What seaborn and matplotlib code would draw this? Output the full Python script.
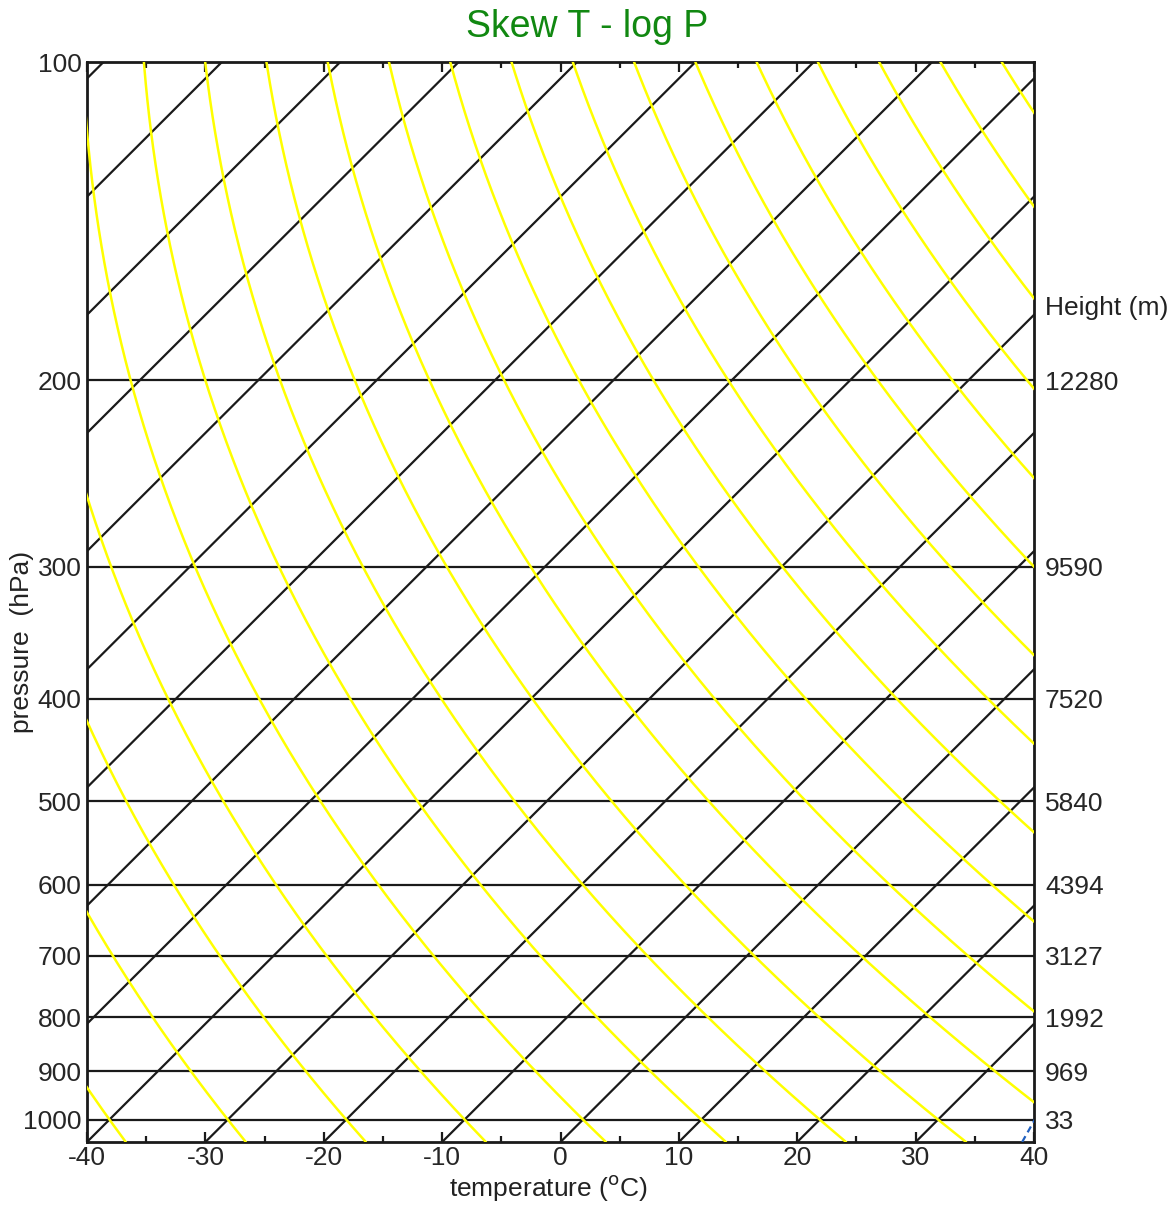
import matplotlib
matplotlib.use("Agg")

import numpy as np
import pandas as pd
import matplotlib.pyplot as plt
import matplotlib.transforms as mtransforms
import seaborn as sns

# diagram data
isotherm_temps = list(range(-130, 50, 10))          # degC
adiabat_thetas = list(range(-40, 170, 10))          # potential temperature, degC
isobar_levels = [200, 300, 400, 500, 600, 700, 800, 900, 1000]
pressure_ticks = [100, 200, 300, 400, 500, 600, 700, 800, 900, 1000]
height_labels = ["12280", "9590", "7520", "5840", "4394", "3127", "1992", "969", "33"]
sounding_p = [1050, 990]
sounding_t = [39.0, 38.0]

P_TOP, P_BOT = 100, 1050
SKEW = 89.5          # degC shift per decade of pressure
KAPPA = 0.286


def skew_x(t, p):
    return np.asarray(t) + SKEW * np.log10(P_BOT / np.asarray(p, dtype=float))


sns.set_theme(style="white")
plt.rcParams["font.family"] = ["Liberation Sans", "DejaVu Sans"]
plt.rcParams["axes.unicode_minus"] = False

fig = plt.figure(figsize=(11.74, 12.05), dpi=100)
ax = fig.add_axes([87 / 1174, 1 - 1142 / 1205, (1034 - 87) / 1174, (1142 - 62) / 1205])

# isotherms: straight lines in skewed coordinates
rows = []
for t in isotherm_temps:
    for p in (P_BOT, P_TOP):
        rows.append({"id": t, "p": p, "x": float(skew_x(t, p))})
iso_df = pd.DataFrame(rows)

# dry adiabats
p_grid = np.geomspace(P_BOT, P_TOP, 200)
rows = []
for th in adiabat_thetas:
    t = (th + 273.15) * (p_grid / 1000.0) ** KAPPA - 273.15
    for pp, xx in zip(p_grid, skew_x(t, p_grid)):
        rows.append({"id": th, "p": pp, "x": xx})
ad_df = pd.DataFrame(rows)

ax.hlines(isobar_levels, -40, 40, color="#1a1a1a", lw=1.6, zorder=2)
sns.lineplot(data=iso_df, x="x", y="p", units="id", estimator=None, sort=False,
             color="#1a1a1a", lw=1.6, ax=ax, zorder=3)
sns.lineplot(data=ad_df, x="x", y="p", units="id", estimator=None, sort=False,
             color="#ffff00", lw=1.8, ax=ax, zorder=4)
ax.plot(skew_x(sounding_t, sounding_p), sounding_p, color="#1f5fbf", lw=1.6,
        ls=(0, (3, 2)), zorder=5)

ax.set_yscale("log")
ax.set_ylim(P_BOT, P_TOP)
ax.set_xlim(-40, 40)
ax.set_yticks(pressure_ticks)
ax.set_yticklabels([str(v) for v in pressure_ticks])
ax.yaxis.set_minor_locator(matplotlib.ticker.NullLocator())
ax.set_xticks(range(-40, 41, 10))
ax.set_xticks(range(-35, 40, 10), minor=True)
ax.tick_params(axis="x", which="both", direction="in", top=True, bottom=True,
               color="#1a1a1a", width=1.6, labelsize=19, pad=3)
ax.tick_params(axis="x", which="major", length=7)
ax.tick_params(axis="x", which="minor", length=4)
ax.tick_params(axis="y", length=0, labelsize=19, pad=4)
ax.set_xlabel("")
ax.set_ylabel("")
for s in ax.spines.values():
    s.set_color("#1a1a1a")
    s.set_linewidth(2.0)

# right axis with heights
ax2 = ax.twinx()
ax2.set_yscale("log")
ax2.set_ylim(P_BOT, P_TOP)
ax2.set_yticks(isobar_levels)
ax2.set_yticklabels(height_labels)
ax2.yaxis.set_minor_locator(matplotlib.ticker.NullLocator())
ax2.tick_params(axis="y", length=0, labelsize=19, pad=8)
ax2.set_ylabel("")
for s in ax2.spines.values():
    s.set_visible(False)

trans = mtransforms.blended_transform_factory(ax.transAxes, ax.transData)
ax.text(1.0116, 171, "Height (m)", transform=trans, fontsize=19,
        ha="left", va="center", color="#222222")

fig.text(0.5, 0.978, "Skew T - log P", fontsize=27, color="#118811",
         ha="center", va="center")
fig.text(548 / 1174, 1 - 1188 / 1205, "temperature ($^{\\mathrm{o}}$C)", fontsize=19,
         ha="center", va="center", color="#222222")
fig.text(22 / 1174, 1 - 642 / 1205, "pressure  (hPa)", fontsize=19, rotation=90,
         ha="center", va="center", color="#222222")

fig.savefig("out.png", dpi=100)
